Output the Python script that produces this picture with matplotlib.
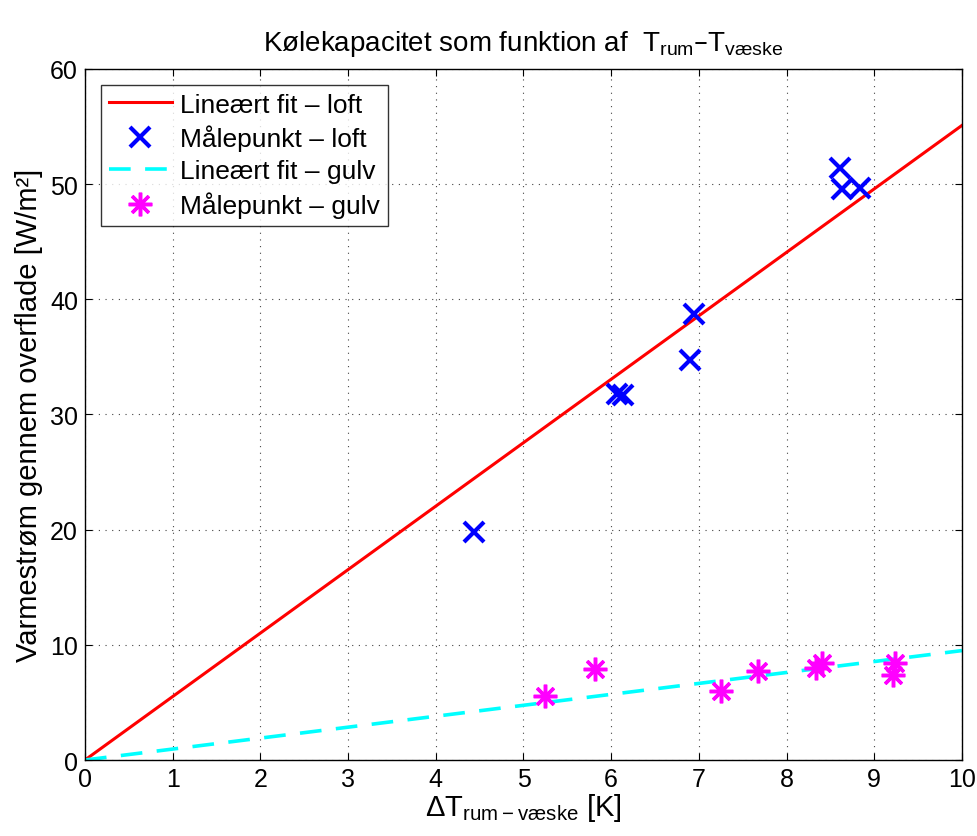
import numpy as np
import matplotlib
matplotlib.use("Agg")
import matplotlib.pyplot as plt

plt.rcParams['font.family'] = ['Liberation Sans', 'DejaVu Sans']
plt.rcParams['mathtext.default'] = 'regular'

# data
dt_loft = [4.44, 6.07, 6.13, 6.90, 6.95, 8.61, 8.63, 8.84]
q_loft = [19.8, 31.75, 31.7, 34.7, 38.7, 51.4, 49.6, 49.7]
dt_gulv = [5.24, 5.81, 7.25, 7.67, 8.34, 8.40, 9.21, 9.24]
q_gulv = [5.6, 7.9, 6.0, 7.7, 8.0, 8.4, 7.4, 8.4]
fit_x = [0, 10]
slope_loft = 5.51
slope_gulv = 0.95

fig = plt.figure(figsize=(9.78, 8.37), dpi=100)
ax = fig.add_axes([0.0869, 0.0908, 0.8967, 0.8256])

fx = np.array(fit_x)
ax.plot(fx, slope_loft * fx, color='red', lw=2.2, label='Lineært fit – loft')
ax.plot(dt_loft, q_loft, 'x', color='blue', ms=14, mew=3, label='Målepunkt – loft')
ax.plot(fx, slope_gulv * fx, '--', color='cyan', lw=2.6, dashes=(6, 4),
        label='Lineært fit – gulv')
ax.plot(dt_gulv, q_gulv, linestyle='none', marker=(8, 2, 0), color='magenta',
        ms=17, mew=2.5, label='Målepunkt – gulv')

ax.set_xlim(0, 10)
ax.set_ylim(0, 60)
ax.set_xticks(range(0, 11))
ax.set_yticks(range(0, 61, 10))
ax.tick_params(direction='in', top=True, right=True, labelsize=18, length=5, pad=5)
ax.grid(True, linestyle=(0, (1, 5)), color='#444444', lw=0.8)
for s in ax.spines.values():
    s.set_linewidth(1.0)

ax.set_title('Kølekapacitet som funktion af  $T_{rum}$–$T_{væske}$', fontsize=20, pad=14)
ax.set_xlabel(r'$\Delta T_{rum-væske}$ [K]', fontsize=21, labelpad=0)
ax.set_ylabel('Varmestrøm gennem overflade [W/m²]', fontsize=21, labelpad=5)

leg = ax.legend(loc='upper left', fontsize=19, frameon=True, fancybox=False,
                borderaxespad=0.6, handlelength=2.4, handletextpad=0.3,
                labelspacing=0.3, borderpad=0.3)
leg.get_frame().set_edgecolor('black')
leg.get_frame().set_linewidth(1.0)

fig.savefig('out.png', dpi=100)
